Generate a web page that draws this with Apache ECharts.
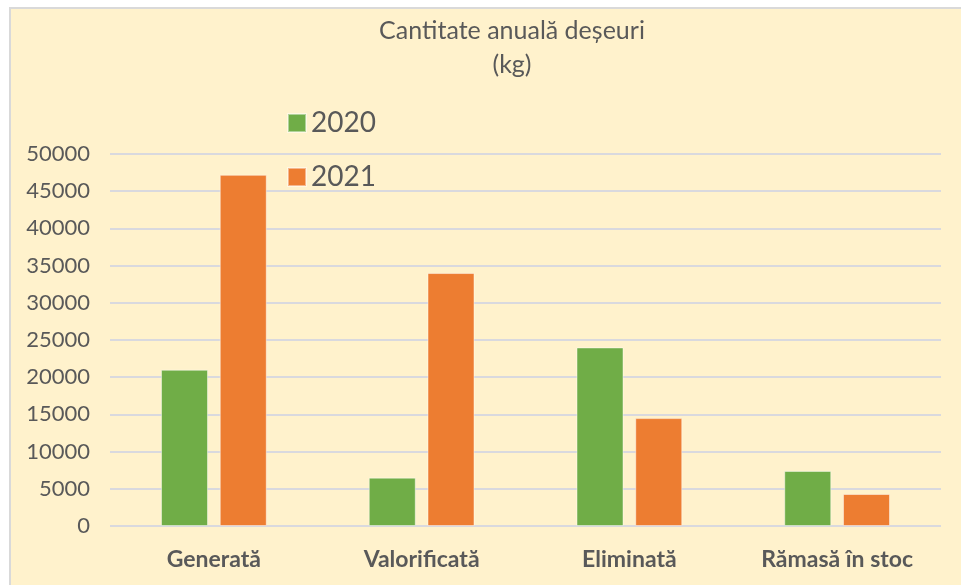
<!DOCTYPE html>
<html>
<head>
<meta charset="utf-8">
<script src="https://cdn.jsdelivr.net/npm/echarts@6/dist/echarts.min.js"></script>
<style>
  html, body { margin: 0; padding: 0; background: #ffffff; }
  #chart { width: 961px; height: 585px; }
</style>
</head>
<body>
<div id="chart"></div>
<script>
const categories = ['Generată', 'Valorificată', 'Eliminată', 'Rămasă în stoc'];
const seriesNames = ['2020', '2021'];
const values2020 = [21000, 6500, 24000, 7400];
const values2021 = [47200, 34000, 14500, 4300];
const titleText = 'Cantitate anuală deșeuri\n(kg)';

const chart = echarts.init(document.getElementById('chart'), null, { renderer: 'canvas' });
const font = 'Lato';
chart.setOption({
  backgroundColor: '#ffffff',
  animation: false,
  graphic: [{
    type: 'rect',
    z: -10,
    silent: true,
    shape: { x: 10, y: 8, width: 980, height: 600 },
    style: { fill: '#FFF2CC', stroke: '#D9D9D9', lineWidth: 2 }
  }],
  title: {
    text: titleText,
    left: 507,
    top: 9,
    textAlign: 'center',
    textStyle: { fontFamily: font, fontSize: 25, fontWeight: 'normal', color: '#595959', lineHeight: 34 }
  },
  legend: {
    orient: 'vertical',
    left: 282,
    top: 104,
    itemWidth: 18,
    itemHeight: 18,
    itemGap: 26,
    icon: 'rect',
    textStyle: { fontFamily: font, fontSize: 28, color: '#595959' },
    data: seriesNames
  },
  grid: { left: 110, right: 20, top: 154, bottom: 59, containLabel: false },
  xAxis: {
    type: 'category',
    data: categories,
    axisLine: { show: false },
    axisTick: { show: false },
    axisLabel: { fontFamily: font, fontSize: 23, fontWeight: 'bold', color: '#595959', margin: 22 }
  },
  yAxis: {
    type: 'value',
    min: 0,
    max: 50000,
    interval: 5000,
    axisLine: { show: false },
    axisTick: { show: false },
    splitLine: { lineStyle: { color: '#D9D9DE', width: 2 } },
    axisLabel: { fontFamily: font, fontSize: 22, color: '#595959', margin: 20, formatter: function (v) { return String(v); } }
  },
  series: [
    {
      name: seriesNames[0],
      type: 'bar',
      data: values2020,
      barWidth: 47,
      barGap: '25%',
      itemStyle: { color: '#70AD47', borderColor: 'rgba(255,255,255,0.45)', borderWidth: 1 }
    },
    {
      name: seriesNames[1],
      type: 'bar',
      data: values2021,
      barWidth: 47,
      barGap: '25%',
      itemStyle: { color: '#ED7D31', borderColor: 'rgba(255,255,255,0.45)', borderWidth: 1 }
    }
  ]
});
</script>
</body>
</html>
